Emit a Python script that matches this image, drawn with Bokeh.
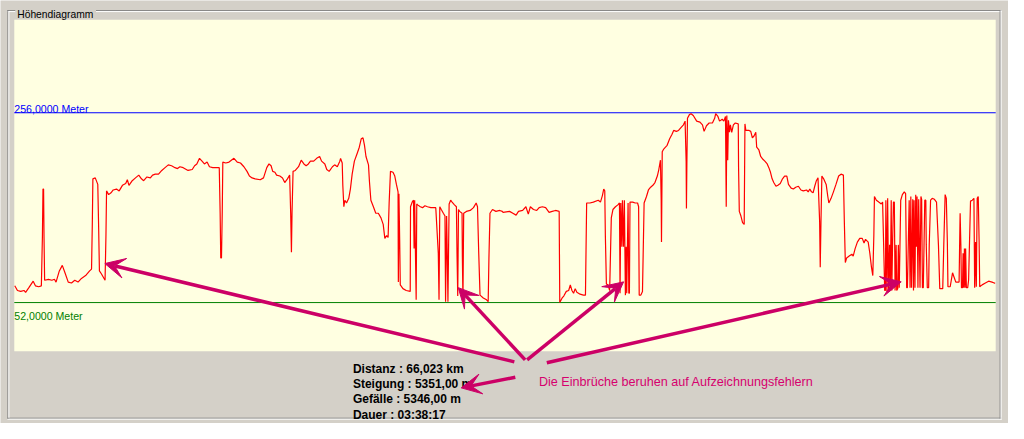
from bokeh.plotting import figure
from bokeh.models import Range1d, Label, Arrow, VeeHead
from bokeh.embed import file_html
from bokeh.resources import INLINE

# ---------------- data ----------------
dist_km = [
    0.00, 0.18, 0.40, 0.62, 0.73, 0.95, 1.24, 1.39, 1.61, 1.79,
    1.86, 1.90, 1.94, 1.97, 2.01, 2.27, 2.50, 2.67, 2.78, 3.00,
    3.20, 3.38, 3.60, 3.82, 4.04, 4.26, 4.49, 4.77, 5.04, 5.17,
    5.22, 5.26, 5.42, 5.59, 5.65, 5.70, 5.83, 6.08, 6.14, 6.18,
    6.32, 6.48, 6.63, 6.85, 7.03, 7.25, 7.47, 7.58, 7.69, 7.91,
    8.13, 8.35, 8.53, 8.68, 8.90, 9.13, 9.28, 9.46, 9.68, 9.90,
    10.12, 10.34, 10.56, 10.79, 10.96,
    11.12, 11.34, 11.67, 11.95, 12.11, 12.26, 12.44, 12.61, 12.77, 12.95,
    13.11, 13.33, 13.54, 13.77, 13.83, 13.87, 13.92, 13.97, 14.01, 14.21,
    14.43, 14.76, 14.98, 15.20, 15.43, 15.64, 15.80, 15.98, 16.19, 16.53,
    16.75, 16.97, 17.12, 17.26, 17.37, 17.52, 17.63, 17.85, 18.03, 18.18,
    18.36, 18.51, 18.58, 18.63, 18.67, 18.74, 18.89, 19.11, 19.29, 19.47,
    19.62, 19.77, 19.91, 20.13, 20.33, 20.53, 20.66, 20.88, 21.01, 21.17,
    21.39, 21.54, 21.72, 21.89,
    21.94, 22.05, 22.09, 22.16, 22.23, 22.34, 22.49, 22.60, 22.72, 22.87,
    23.05, 23.20, 23.33, 23.45, 23.55, 23.65, 23.82, 23.88, 23.98, 24.15,
    24.31, 24.48, 24.66, 24.81, 24.92, 25.04, 25.14, 25.21, 25.30, 25.47,
    25.59, 25.70, 25.81, 25.83, 25.87, 25.92, 25.96, 26.14, 26.36, 26.63,
    26.65, 26.76, 26.85, 26.89, 26.93, 26.98, 27.03, 27.07, 27.13, 27.31,
    27.46, 27.62, 27.79, 28.02, 28.35, 28.52, 28.57, 28.62, 28.72, 28.86,
    28.97, 29.01, 29.08, 29.12, 29.17, 29.21, 29.25, 29.35, 29.45, 29.61,
    29.74, 29.78, 29.83, 29.88, 29.96, 30.12, 30.14, 30.18, 30.23, 30.41,
    30.67, 30.89, 31.07, 31.16, 31.24, 31.33, 31.55, 31.77, 31.88, 31.93,
    32.00, 32.17, 32.40, 32.66, 32.83,
    32.88, 33.32, 33.54, 33.76, 33.92, 34.20, 34.42, 34.58, 34.72, 34.93,
    35.15, 35.31, 35.53, 35.75, 35.98, 36.19, 36.41, 36.66, 36.70, 36.86,
    36.97, 37.14, 37.30, 37.41, 37.52, 37.63, 37.74, 37.85, 38.07, 38.29,
    38.43, 38.47, 38.51, 38.73, 38.96, 39.29, 39.44, 39.57, 39.66, 39.73,
    39.77, 39.84, 39.95, 40.06, 40.17, 40.28, 40.45, 40.61, 40.72, 40.76,
    40.81, 40.88, 40.92, 40.99, 41.05, 41.12, 41.17, 41.21, 41.30, 41.35,
    41.39, 41.43, 41.61, 41.78, 41.94, 42.01, 42.05, 42.16, 42.27, 42.38,
    42.54, 42.67, 42.82, 42.97, 43.11, 43.27, 43.37, 43.48, 43.53, 43.55,
    43.60, 43.70, 43.82,
    43.93, 44.10, 44.26, 44.37, 44.55, 44.70, 44.86, 45.03, 45.14, 45.21,
    45.23, 45.26, 45.30, 45.43, 45.54, 45.69, 45.92, 46.14, 46.31, 46.42,
    46.58, 46.76, 46.98, 47.13, 47.20, 47.35, 47.46, 47.64, 47.75, 47.86,
    47.91, 47.95, 48.01, 48.06, 48.13, 48.19, 48.28, 48.39, 48.52, 48.72,
    48.74, 48.79, 48.90, 49.01, 49.12, 49.17, 49.23, 49.45, 49.56, 49.67,
    49.78, 49.90, 49.96, 50.11, 50.23, 50.38, 50.51, 50.67, 50.78, 50.89,
    51.00, 51.11, 51.26, 51.39, 51.55, 51.70, 51.84, 51.99, 52.10, 52.28,
    52.43, 52.59, 52.77, 52.94, 53.10, 53.32, 53.43, 53.54, 53.65, 53.76,
    53.87, 53.98, 54.09, 54.20, 54.24, 54.29, 54.35, 54.47, 54.64,
    54.75, 54.82, 54.97, 55.13, 55.30, 55.48, 55.64, 55.80, 55.86, 55.93,
    56.02, 56.19, 56.37, 56.46, 56.59, 56.74, 56.90, 57.07, 57.19, 57.29,
    57.47, 57.58, 57.69, 57.78, 57.85, 57.89, 58.02, 58.18, 58.35, 58.44,
    58.51, 58.58, 58.63, 58.66, 58.73, 58.78, 58.84, 58.91, 58.96, 59.02,
    59.06, 59.11, 59.17, 59.23, 59.28, 59.35, 59.39, 59.46, 59.50, 59.56,
    59.61, 59.66, 59.77, 59.90, 59.99, 60.06, 60.11, 60.17, 60.23, 60.29,
    60.34, 60.39, 60.43, 60.47, 60.52, 60.56, 60.62, 60.67, 60.72, 60.76,
    60.82, 60.87, 60.92, 60.96, 61.02, 61.07, 61.12, 61.18, 61.23, 61.28,
    61.35, 61.38, 61.45, 61.54, 61.58, 61.67, 61.78, 61.93, 62.07, 62.20,
    62.29, 62.49, 62.56, 62.65, 62.73, 62.80, 62.84, 62.99, 63.15, 63.26,
    63.37, 63.59, 63.66, 63.71, 63.75, 63.82, 63.86, 63.90, 63.95, 63.99,
    64.03, 64.08, 64.17, 64.23, 64.36, 64.48, 64.59, 64.64, 64.70, 64.75,
    64.81, 64.88, 64.94, 64.98, 65.14, 65.36, 65.58, 65.81, 65.96, 66.02,
]

elev_m = [
    70, 65, 64, 65, 63, 68, 75, 70, 69, 70,
    122, 174, 174, 122, 76, 77, 76, 77, 74, 86,
    92, 84, 74, 73, 76, 74, 78, 81, 86, 88,
    135, 185, 186, 179, 131, 86, 83, 76, 124, 172,
    168, 170, 173, 174, 172, 178, 180, 184, 178, 183,
    186, 189, 185, 183, 187, 186, 189, 190, 190, 194,
    197, 200, 199, 197, 196,
    198, 197, 194, 195, 199, 201, 207, 204, 201, 203,
    198, 197, 197, 197, 148, 100, 100, 148, 203, 202,
    203, 207, 203, 202, 198, 193, 188, 186, 185, 184,
    186, 197, 201, 199, 193, 192, 189, 188, 186, 181,
    185, 189, 148, 106, 148, 193, 194, 198, 205, 201,
    199, 201, 204, 204, 207, 209, 204, 201, 195, 193,
    198, 200, 198, 204,
    207, 202, 178, 155, 162, 159, 164, 174, 190, 204,
    212, 219, 228, 229, 221, 209, 200, 183, 162, 155,
    148, 148, 143, 136, 121, 124, 122, 159, 193, 192,
    188, 179, 171, 74, 169, 119, 71, 67, 65, 64,
    155, 160, 162, 110, 162, 107, 55, 158, 157, 155,
    154, 156, 155, 154, 154, 105, 55, 155, 152, 148,
    145, 53, 145, 107, 53, 107, 158, 162, 160, 157,
    155, 105, 59, 152, 150, 148, 102, 55, 148, 150,
    151, 154, 159, 155, 107, 60, 57, 55, 53, 100,
    148, 152, 150, 151, 150,
    149, 150, 148, 146, 150, 151, 155, 147, 155, 152,
    151, 154, 155, 154, 149, 150, 151, 150, 52, 57,
    59, 64, 65, 71, 65, 62, 67, 63, 61, 60,
    60, 110, 159, 159, 160, 162, 160, 167, 174, 172,
    124, 72, 71, 65, 143, 152, 155, 157, 159, 62,
    159, 112, 162, 112, 162, 60, 112, 62, 159, 62,
    62, 160, 160, 159, 159, 155, 60, 60, 64, 159,
    166, 173, 176, 178, 181, 188, 195, 205, 162, 117,
    214, 217, 219,
    221, 228, 233, 237, 236, 237, 240, 243, 247, 204,
    153, 202, 250, 254, 255, 253, 247, 246, 243, 236,
    242, 245, 245, 250, 255, 252, 247, 249, 247, 252,
    155, 253, 205, 248, 235, 243, 235, 243, 245, 244,
    198, 150, 145, 138, 136, 244, 237, 237, 236, 229,
    231, 235, 219, 216, 209, 206, 204, 201, 197, 192,
    185, 181, 177, 178, 180, 185, 188, 188, 179, 175,
    174, 176, 177, 173, 172, 173, 171, 174, 171, 170,
    177, 183, 186, 139, 90, 139, 188, 185, 179,
    166, 159, 164, 171, 179, 188, 190, 189, 141, 95,
    100, 102, 104, 102, 110, 117, 121, 121, 116, 120,
    117, 105, 90, 81, 124, 166, 162, 160, 158, 160,
    114, 65, 65, 162, 64, 164, 64, 114, 65, 162,
    65, 114, 160, 160, 65, 114, 65, 67, 114, 68,
    114, 162, 168, 171, 169, 68, 68, 114, 162, 68,
    166, 68, 112, 163, 65, 162, 68, 168, 112, 166,
    68, 163, 112, 68, 166, 163, 68, 68, 114, 162,
    162, 114, 68, 68, 114, 162, 164, 163, 160, 114,
    67, 67, 114, 168, 164, 117, 69, 69, 84, 79,
    74, 74, 148, 114, 68, 68, 105, 68, 110, 68,
    110, 68, 68, 76, 161, 162, 164, 68, 117, 69,
    164, 166, 117, 69, 71, 73, 75, 74, 73, 73,
]

assert len(dist_km) == len(elev_m)

max_elev = 256.0
min_elev = 52.0
distance_total = 66.023
ascent = 5351.00
descent = 5346.00
duration = "03:38:17"
chart_title = "Höhendiagramm"
note_text = "Die Einbrüche beruhen auf Aufzeichnungsfehlern"


def de(v, nd):
    return f"{v:.{nd}f}".replace(".", ",")


# ---------------- layout ----------------
# The canvas represents the whole 1024x439 window layout, drawn at 1008x423.
W, H = 1008, 423
REF_W, REF_H = 1024, 439
KPP = distance_total / 996.0          # km per layout pixel
MPP = (max_elev - min_elev) / 197.0   # metres per layout pixel


def cx(px):
    return (px - 14.5) * KPP


def cy(py):
    return max_elev - (py - 116.5) * MPP


GRAY = "#D4D0C8"
YELLOW = "#FFFFE1"
PINK = "#CC0066"
FONT = "Liberation Sans"

p = figure(width=W, height=H, x_range=Range1d(cx(0), cx(REF_W)),
           y_range=Range1d(cy(REF_H), cy(0)),
           output_backend="svg", toolbar_location=None, title=None,
           x_axis_type=None, y_axis_type=None, min_border=0,
           background_fill_color=GRAY, border_fill_color=GRAY,
           outline_line_color=None)

# plot area
p.quad(left=[cx(14)], right=[cx(1011)], top=[cy(20)], bottom=[cy(364)],
       fill_color=YELLOW, line_color=None)

# group box frame (etched)
for (xa, xb) in [(cx(7), cx(15)), (cx(97), cx(1017))]:
    p.segment(x0=[xa], x1=[xb], y0=[cy(10.5)], y1=[cy(10.5)], line_color="#808080", line_width=1)
    p.segment(x0=[xa], x1=[xb], y0=[cy(11.5)], y1=[cy(11.5)], line_color="#FFFFFF", line_width=1)
p.segment(x0=[cx(7)], x1=[cx(1017)], y0=[cy(433.5)], y1=[cy(433.5)], line_color="#808080", line_width=1)
p.segment(x0=[cx(7)], x1=[cx(1017)], y0=[cy(434.5)], y1=[cy(434.5)], line_color="#FFFFFF", line_width=1)
p.segment(x0=[cx(7.5)], x1=[cx(7.5)], y0=[cy(10)], y1=[cy(434)], line_color="#808080", line_width=1)
p.segment(x0=[cx(8.5)], x1=[cx(8.5)], y0=[cy(11)], y1=[cy(433)], line_color="#FFFFFF", line_width=1)
p.segment(x0=[cx(1015.5)], x1=[cx(1015.5)], y0=[cy(10)], y1=[cy(434)], line_color="#808080", line_width=1)
p.segment(x0=[cx(1016.5)], x1=[cx(1016.5)], y0=[cy(10)], y1=[cy(435)], line_color="#FFFFFF", line_width=1)

# max / min lines
p.segment(x0=[cx(14)], x1=[cx(1011)], y0=[max_elev], y1=[max_elev], line_color="#0000FF", line_width=1)
p.segment(x0=[cx(14)], x1=[cx(1011)], y0=[min_elev], y1=[min_elev], line_color="#008000", line_width=1)

# profile
p.line(dist_km, elev_m, line_color="#FF0000", line_width=1.2)

# texts
p.add_layout(Label(x=cx(17), y=cy(15), text=chart_title, text_font=FONT,
                   text_font_size="10.3px", text_color="#000000", text_baseline="alphabetic"))
p.add_layout(Label(x=cx(14), y=cy(113), text=de(max_elev, 4) + " Meter", text_font=FONT,
                   text_font_size="10.6px", text_color="#0000FF", text_baseline="alphabetic"))
p.add_layout(Label(x=cx(14), y=cy(327), text=de(min_elev, 4) + " Meter", text_font=FONT,
                   text_font_size="10.6px", text_color="#008000", text_baseline="alphabetic"))

stats = [
    f"Distanz : {de(distance_total, 3)} km",
    f"Steigung : {de(ascent, 2)} m",
    f"Gefälle : {de(descent, 2)} m",
    f"Dauer : {duration}",
]
for i, s in enumerate(stats):
    p.add_layout(Label(x=cx(358), y=cy(382 + 16 * i), text=s, text_font=FONT,
                       text_font_size="12px", text_font_style="bold",
                       text_color="#000000", text_baseline="alphabetic"))

p.add_layout(Label(x=cx(547), y=cy(395.5), text=note_text, text_font=FONT,
                   text_font_size="12.6px", text_color="#D6006E", text_baseline="alphabetic"))

# arrows (start in the gray area, tips on the faulty dips)
arrows = [
    ((522, 375), (106, 273)),
    ((533, 373), (465, 298)),
    ((535, 373), (633, 292)),
    ((555, 376), (915, 292)),
    ((523, 391), (468, 402)),
]
for (sx, sy), (ex, ey) in arrows:
    p.add_layout(Arrow(x_start=cx(sx), y_start=cy(sy), x_end=cx(ex), y_end=cy(ey),
                       line_color=PINK, line_width=3.5,
                       end=VeeHead(size=20, fill_color=PINK, line_color=PINK)))

open("out.html", "w").write(file_html(p, INLINE))
